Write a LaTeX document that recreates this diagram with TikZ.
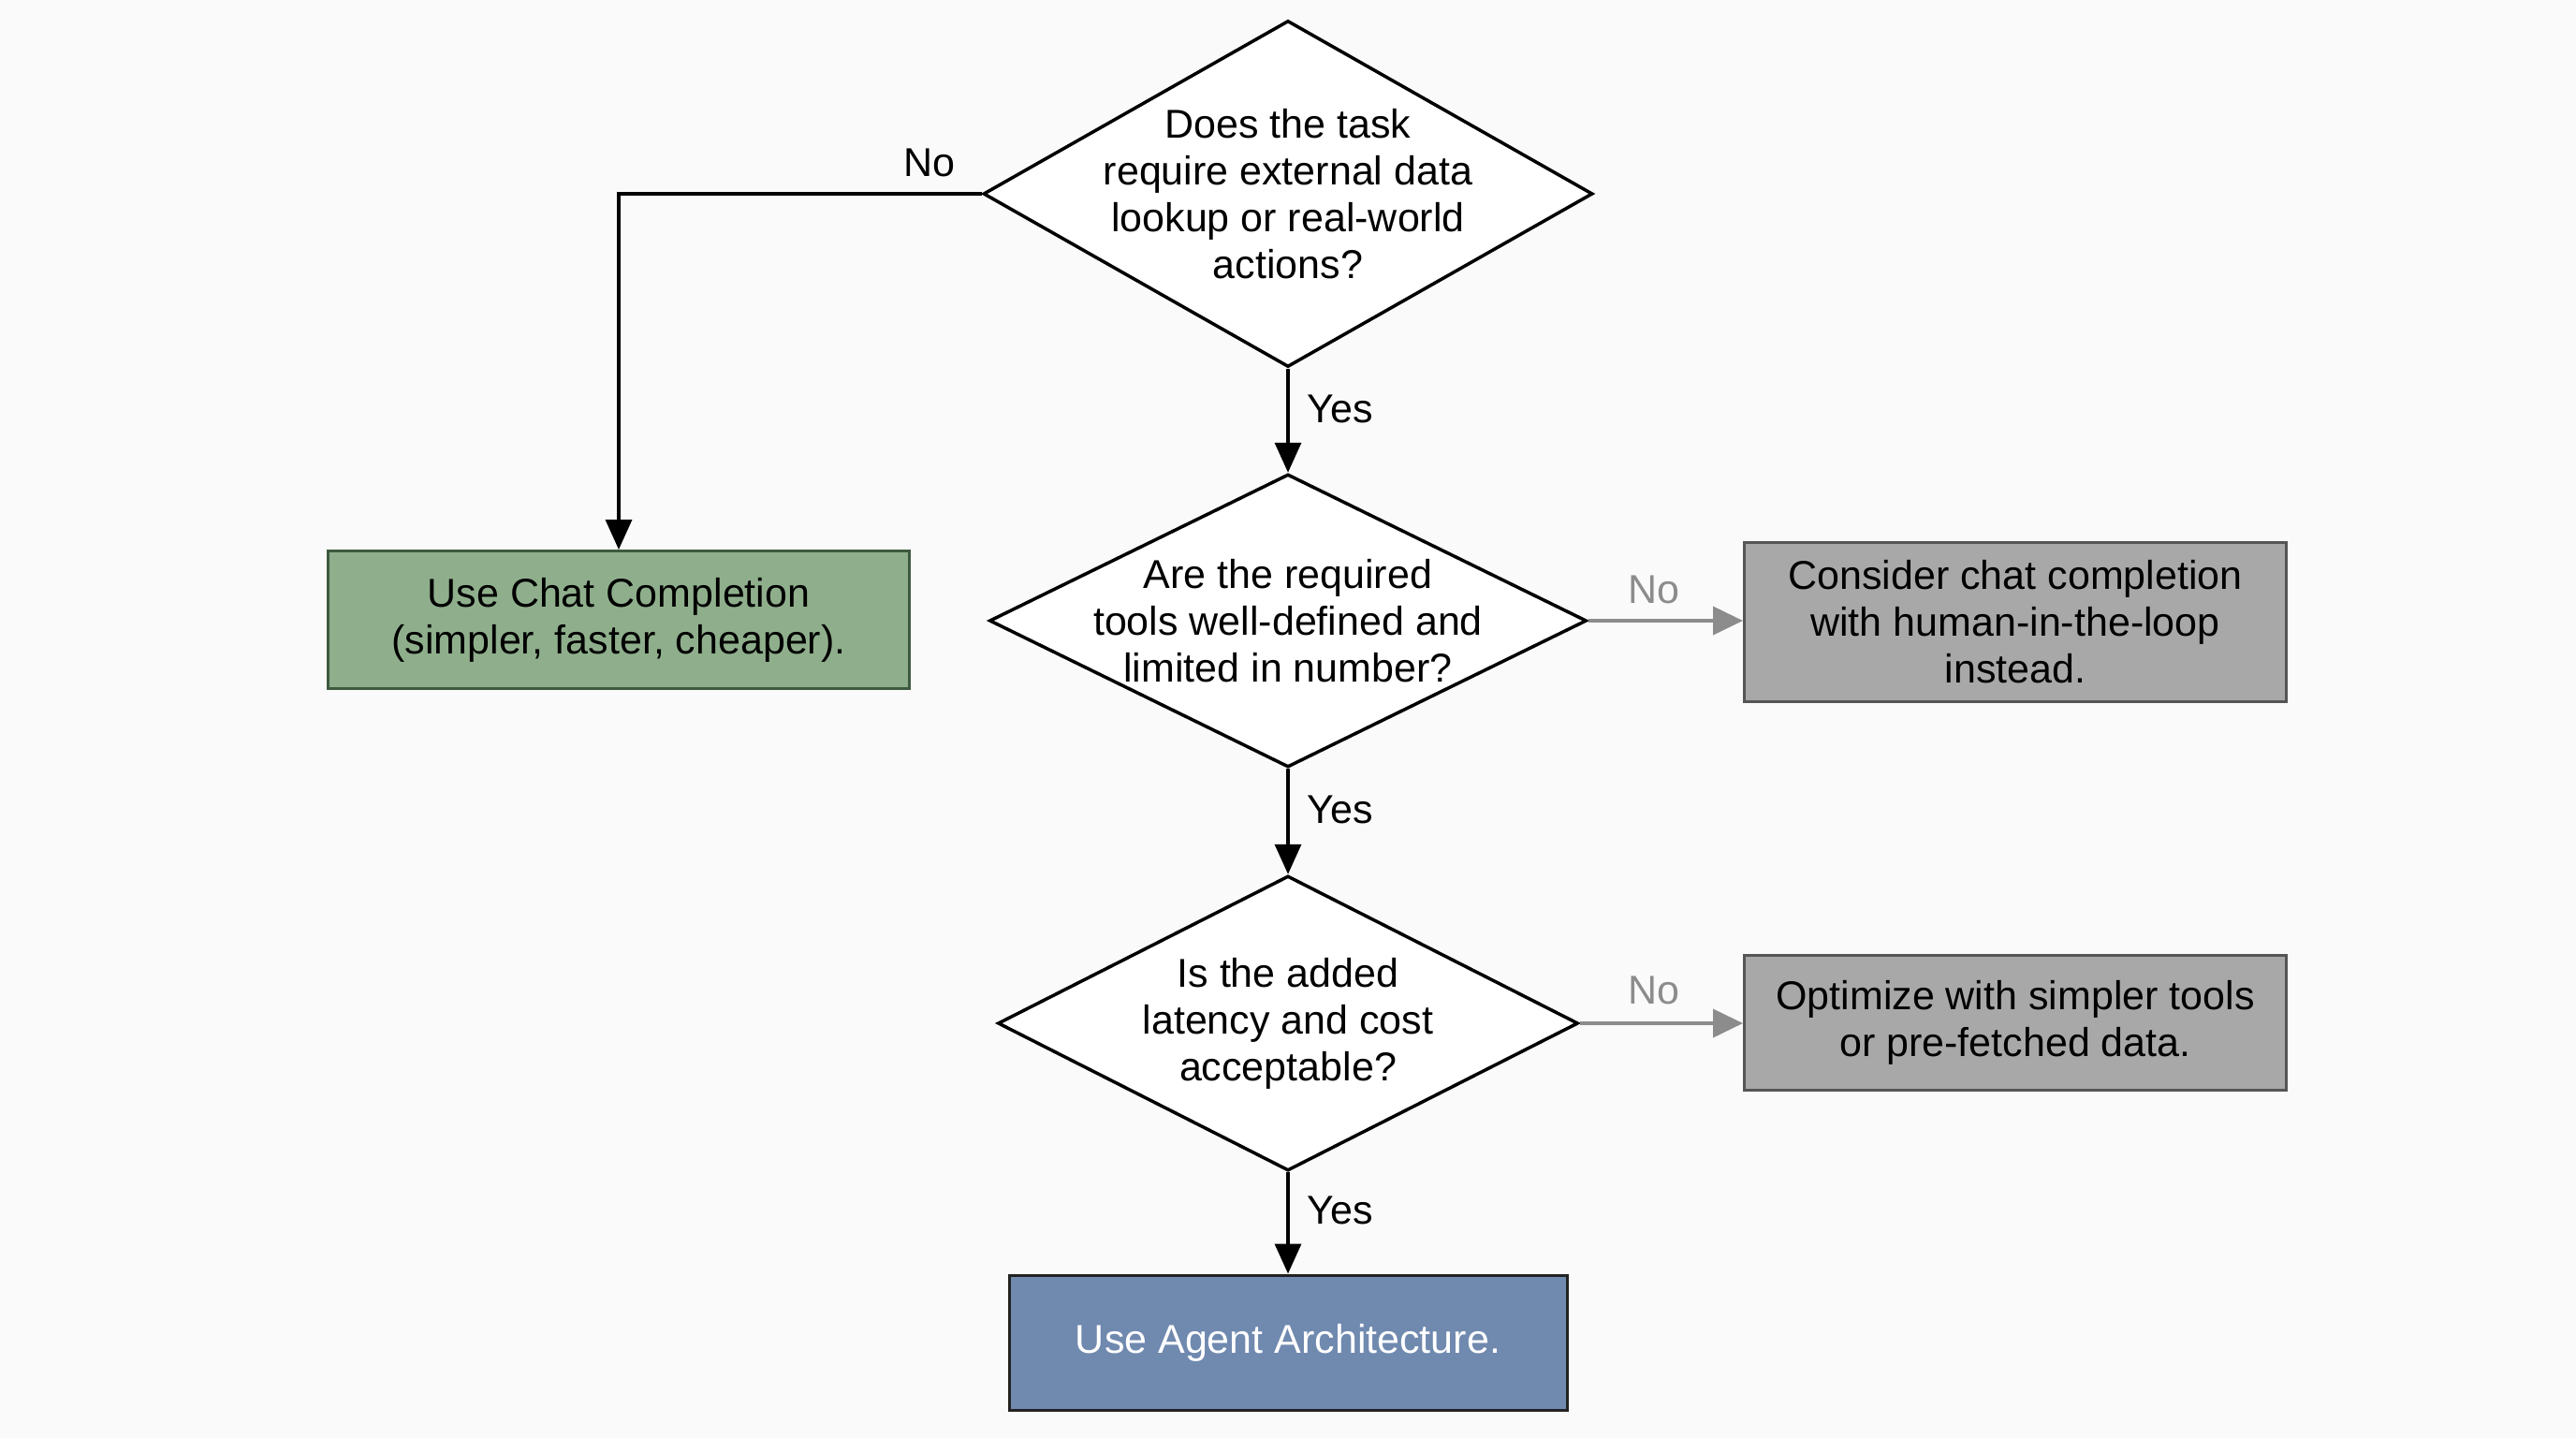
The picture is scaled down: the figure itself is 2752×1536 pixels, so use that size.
\documentclass[tikz,border=0pt]{standalone}
\usepackage{fontspec}
\setmainfont{Liberation Sans}
\usetikzlibrary{shapes.geometric,arrows.meta}
\definecolor{bgc}{HTML}{FAFAFA}
\definecolor{greenfill}{HTML}{8FAF8C}
\definecolor{greenline}{HTML}{3E5A3E}
\definecolor{greyfill}{HTML}{A8A8A8}
\definecolor{greyline}{HTML}{555555}
\definecolor{bluefill}{HTML}{7089AF}
\definecolor{blueline}{HTML}{222222}
\definecolor{noarrow}{HTML}{8C8C8C}
\tikzset{
  txt/.style={font=\fontsize{43}{50}\selectfont, align=center},
  decision/.style={draw=black, line width=3.5pt, fill=white, diamond, inner sep=0pt},
  box/.style={rectangle, line width=3pt, inner sep=0pt, txt},
  yesarrow/.style={draw=black, line width=3.5pt, -{Triangle[length=32pt,width=28pt]}},
  noarrowg/.style={draw=noarrow, line width=4pt, -{Triangle[length=32pt,width=30pt]}},
  lbl/.style={txt, inner sep=0pt},
}
\begin{document}
\begin{tikzpicture}[x=1pt,y=-1pt]
\fill[bgc] (0,0) rectangle (2752,1536);
\useasboundingbox (0,0) rectangle (2752,1536);

\node[decision, minimum width=651pt, minimum height=370pt,
  label={[txt]center:Does the task\\require external data\\lookup or real-world\\actions?}] (d1) at (1376,207) {};
\node[decision, minimum width=638pt, minimum height=313pt,
  label={[txt]center:Are the required\\tools well-defined and\\limited in number?}] (d2) at (1376,663) {};
\node[decision, minimum width=620pt, minimum height=315pt,
  label={[txt]center:Is the added\\latency and cost\\acceptable?}] (d3) at (1376,1093) {};

\node[box, draw=greenline, fill=greenfill, minimum width=621pt, minimum height=147pt] (chat) at (661,662) {Use Chat Completion\\(simpler, faster, cheaper).};
\node[box, draw=greyline, fill=greyfill, minimum width=579pt, minimum height=170pt] (human) at (2153,664) {Consider chat completion\\with human-in-the-loop\\instead.};
\node[box, draw=greyline, fill=greyfill, minimum width=579pt, minimum height=144pt] (opt) at (2153,1092) {Optimize with simpler tools\\or pre-fetched data.};
\node[box, draw=blueline, fill=bluefill, text=white, minimum width=596pt, minimum height=144pt] (agent) at (1376,1434) {Use Agent Architecture.};

\draw[yesarrow] (d1.west) -| (chat.north);
\draw[yesarrow] (d1.south) -- (d2.north);
\draw[yesarrow] (d2.south) -- (d3.north);
\draw[yesarrow] (d3.south) -- (agent.north);
\draw[noarrowg] (d2.east) -- (d2.east -| human.west);
\draw[noarrowg] (d3.east) -- (d3.east -| opt.west);

\node[lbl] (n1) at (993,174) {No};
\node[lbl] (y1) at (1432,437) {Yes};
\node[lbl] (y2) at (1432,865) {Yes};
\node[lbl] (y3) at (1432,1293) {Yes};
\node[lbl, text=noarrow] (n2) at (1767,630) {No};
\node[lbl, text=noarrow] (n3) at (1767,1058) {No};
\end{tikzpicture}
\end{document}
